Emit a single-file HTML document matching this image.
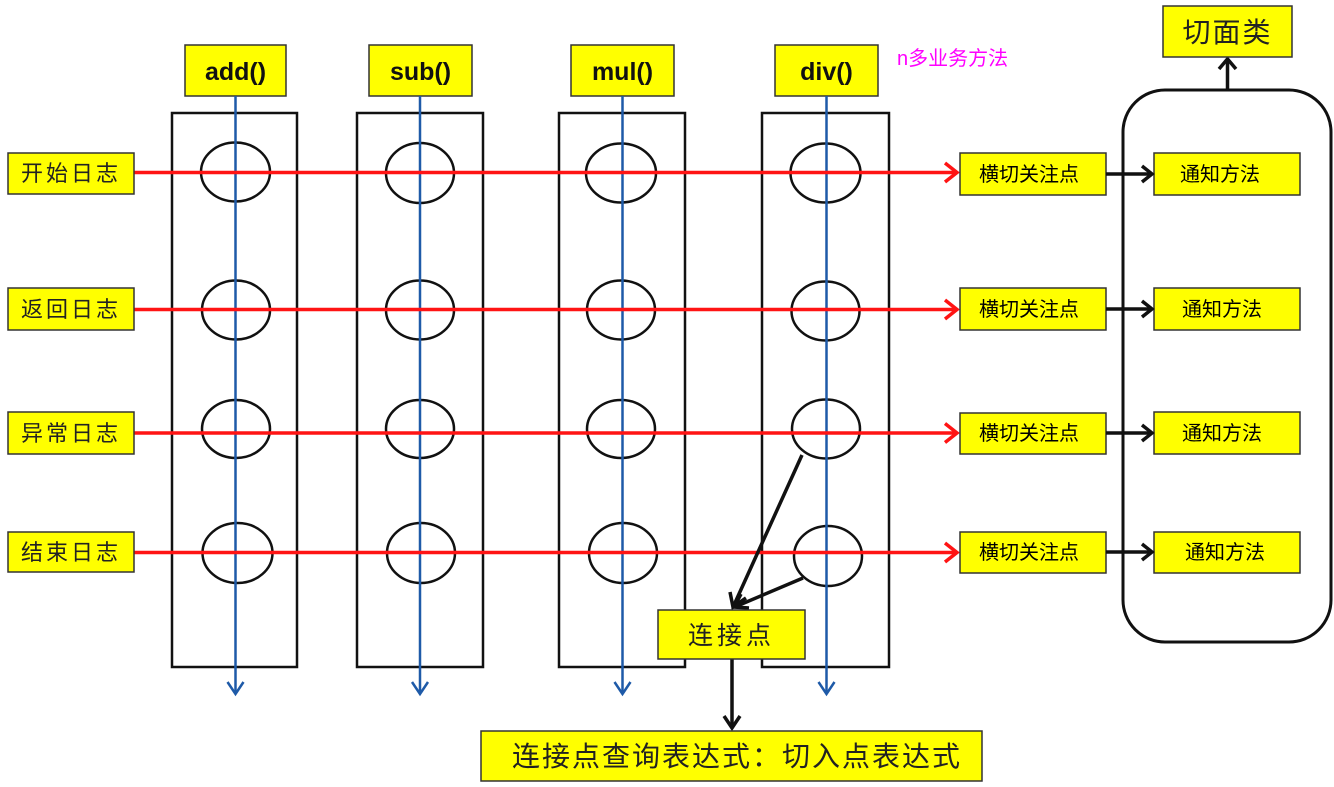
<!DOCTYPE html>
<html><head><meta charset="utf-8"><style>
html,body{margin:0;padding:0;background:#fff;}
svg{display:block;}
text{font-family:"Liberation Sans","Noto Sans CJK SC",sans-serif;}
.cj{font-family:"Liberation Sans","Noto Sans CJK SC",sans-serif;}
</style></head><body>
<svg width="1334" height="787" viewBox="0 0 1334 787" xmlns="http://www.w3.org/2000/svg">
<rect width="1334" height="787" fill="#fff"/>

<!-- column rectangles -->
<g fill="none" stroke="#111" stroke-width="2.5">
<rect x="172" y="113" width="125" height="554"/>
<rect x="357" y="113" width="126" height="554"/>
<rect x="559" y="113" width="126" height="554"/>
<rect x="762" y="113" width="127" height="554"/>
</g>

<!-- method boxes -->
<g fill="#ffff00" stroke="#333" stroke-width="1.5">
<rect x="185" y="45" width="101" height="51"/>
<rect x="369" y="45" width="103" height="51"/>
<rect x="571" y="45" width="103" height="51"/>
<rect x="775" y="45" width="103" height="51"/>
</g>
<g font-size="25" font-weight="bold" fill="#111" text-anchor="middle">
<text x="235.5" y="80">add()</text>
<text x="420.5" y="80">sub()</text>
<text x="622.5" y="80">mul()</text>
<text x="826.5" y="80">div()</text>
</g>

<text x="897" y="65" font-size="20" fill="#ff00ff">n多业务方法</text>

<!-- ellipses -->
<g fill="none" stroke="#111" stroke-width="2.5">
<ellipse cx="235.5" cy="172" rx="34.5" ry="29.5"/>
<ellipse cx="420" cy="173" rx="34" ry="30"/>
<ellipse cx="621" cy="173" rx="35" ry="29.5"/>
<ellipse cx="825.5" cy="173" rx="35" ry="29.5"/>

<ellipse cx="236" cy="310" rx="34" ry="29.5"/>
<ellipse cx="420" cy="310" rx="34" ry="29.5"/>
<ellipse cx="621" cy="310" rx="34" ry="29.5"/>
<ellipse cx="825.5" cy="311" rx="34" ry="29.5"/>

<ellipse cx="236" cy="429" rx="34" ry="29"/>
<ellipse cx="420" cy="429" rx="34" ry="29"/>
<ellipse cx="621" cy="429" rx="34" ry="29"/>
<ellipse cx="826" cy="429" rx="34" ry="29.5"/>

<ellipse cx="237.5" cy="553" rx="35" ry="30"/>
<ellipse cx="421" cy="553" rx="34" ry="30"/>
<ellipse cx="623" cy="553" rx="34" ry="30"/>
<ellipse cx="828" cy="556" rx="34" ry="30"/>
</g>

<!-- blue vertical lines -->
<g stroke="#1e5aa8" stroke-width="2.5" fill="none">
<line x1="235.5" y1="96" x2="235.5" y2="693"/>
<line x1="420" y1="96" x2="420" y2="693"/>
<line x1="622.5" y1="96" x2="622.5" y2="693"/>
<line x1="826.5" y1="96" x2="826.5" y2="693"/>
<polyline points="227.5,682 235.5,694 243.5,682"/>
<polyline points="412,682 420,694 428,682"/>
<polyline points="614.5,682 622.5,694 630.5,682"/>
<polyline points="818.5,682 826.5,694 834.5,682"/>
</g>

<!-- red horizontal lines -->
<g stroke="#ff1414" stroke-width="3.5" fill="none">
<line x1="134" y1="172.5" x2="956" y2="172.5"/>
<line x1="134" y1="309.5" x2="956" y2="309.5"/>
<line x1="134" y1="433" x2="956" y2="433"/>
<line x1="134" y1="552.5" x2="956" y2="552.5"/>
<polyline points="945,163 957,172.5 945,182"/>
<polyline points="945,300 957,309.5 945,319"/>
<polyline points="945,423.5 957,433 945,442.5"/>
<polyline points="945,543 957,552.5 945,562"/>
</g>

<!-- left labels -->
<g fill="#ffff00" stroke="#333" stroke-width="1.5">
<rect x="8" y="153" width="126" height="41"/>
<rect x="8" y="288" width="126" height="42"/>
<rect x="8" y="412" width="126" height="42"/>
<rect x="8" y="532" width="126" height="40"/>
</g>
<g font-size="22" fill="#222" letter-spacing="3" class="cj">
<text x="21" y="181">开始日志</text>
<text x="21" y="317">返回日志</text>
<text x="21" y="441">异常日志</text>
<text x="21" y="560">结束日志</text>
</g>

<!-- rounded aspect container -->
<rect x="1123" y="90" width="208" height="552" rx="42" ry="42" fill="none" stroke="#111" stroke-width="3"/>
<line x1="1227.5" y1="90" x2="1227.5" y2="60" stroke="#111" stroke-width="3.5"/>
<polyline points="1219,69 1227.5,59 1236,69" fill="none" stroke="#111" stroke-width="3.5"/>

<rect x="1163" y="6" width="129" height="51" fill="#ffff00" stroke="#333" stroke-width="1.5"/>
<text x="1227.5" y="42" font-size="28" fill="#222" text-anchor="middle" letter-spacing="2" class="cj">切面类</text>

<!-- 横切关注点 / 通知方法 -->
<g fill="#ffff00" stroke="#333" stroke-width="1.5">
<rect x="960" y="153" width="146" height="42"/>
<rect x="960" y="288" width="146" height="42"/>
<rect x="960" y="413" width="146" height="41"/>
<rect x="960" y="532" width="146" height="41"/>
<rect x="1154" y="153" width="146" height="42"/>
<rect x="1154" y="288" width="146" height="42"/>
<rect x="1154" y="412" width="146" height="42"/>
<rect x="1154" y="532" width="146" height="41"/>
</g>
<g font-size="20" fill="#000" class="cj">
<text x="979" y="181">横切关注点</text>
<text x="979" y="316">横切关注点</text>
<text x="979" y="440">横切关注点</text>
<text x="979" y="559">横切关注点</text>
<text x="1180" y="181">通知方法</text>
<text x="1182" y="316">通知方法</text>
<text x="1182" y="440">通知方法</text>
<text x="1185" y="559">通知方法</text>
</g>
<g stroke="#111" stroke-width="3.5" fill="none">
<line x1="1106" y1="174" x2="1151" y2="174"/>
<line x1="1106" y1="309" x2="1151" y2="309"/>
<line x1="1106" y1="433" x2="1151" y2="433"/>
<line x1="1106" y1="552" x2="1151" y2="552"/>
<polyline points="1142,166 1152,174 1142,182"/>
<polyline points="1142,301 1152,309 1142,317"/>
<polyline points="1142,425 1152,433 1142,441"/>
<polyline points="1142,544 1152,552 1142,560"/>
</g>

<!-- join point arrows -->
<g stroke="#111" stroke-width="3.5" fill="none">
<line x1="802" y1="455" x2="734" y2="605"/>
<line x1="803" y1="578" x2="737" y2="606"/>
<polyline points="730,592 733,607 746,598"/>
<polyline points="741,594 734,607 749,608"/>
<line x1="732" y1="659" x2="732" y2="727"/>
<polyline points="724,716 732,728 740,716"/>
</g>

<rect x="658" y="610" width="147" height="49" fill="#ffff00" stroke="#333" stroke-width="1.5"/>
<text x="731.5" y="644" font-size="25" fill="#222" text-anchor="middle" letter-spacing="4" class="cj">连接点</text>

<rect x="481" y="731" width="501" height="50" fill="#ffff00" stroke="#333" stroke-width="1.5"/>
<text x="512" y="766" font-size="28" fill="#222" letter-spacing="2" class="cj">连接点查询表达式：切入点表达式</text>
</svg>
</body></html>
